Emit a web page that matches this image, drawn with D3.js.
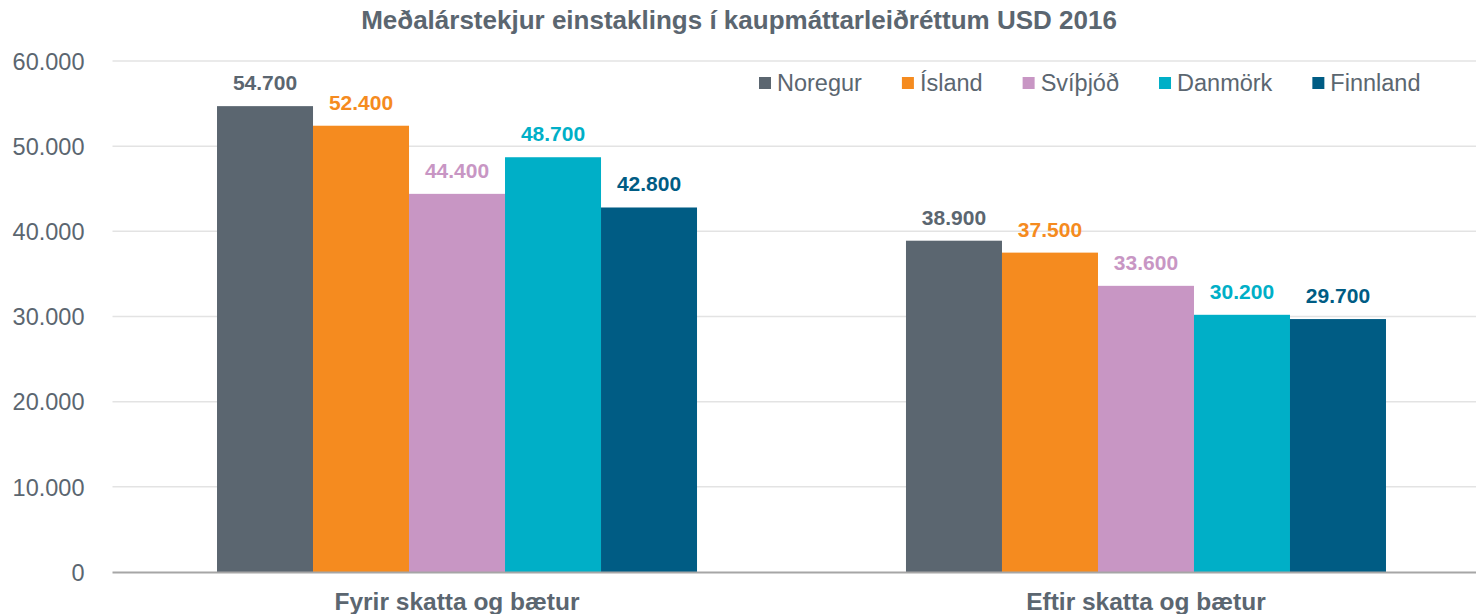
<!DOCTYPE html>
<html>
<head>
<meta charset="utf-8">
<script src="https://cdn.jsdelivr.net/npm/d3@7"></script>
<style>
  body { margin: 0; background: #fff; }
  text { font-family: 'Liberation Sans', Arial, sans-serif; }
</style>
</head>
<body>
<div id="chart"></div>
<script>
const categories = ['Fyrir skatta og bætur', 'Eftir skatta og bætur']
const countries = ['Noregur', 'Ísland', 'Svíþjóð', 'Danmörk', 'Finnland']
const colors = ['#5b6670', '#f58b1f', '#c896c4', '#00afc7', '#005c84']
const noregur = [54700, 38900]
const island = [52400, 37500]
const svithjod = [44400, 33600]
const danmork = [48700, 30200]
const finnland = [42800, 29700]
const yTicks = [0, 10000, 20000, 30000, 40000, 50000, 60000]
const title = 'Meðalárstekjur einstaklings í kaupmáttarleiðréttum USD 2016'

const series = [noregur, island, svithjod, danmork, finnland]

const width = 1476
const height = 614
const textColor = '#5b6670'
const margin = { top: 61, left: 112.5, bottom: 42 }
const plotRight = 1490.5

const fmt = v => d3.format(',')(v).replace(/,/g, '.')

const svg = d3.select('#chart')
    .append('svg')
    .attr('width', width)
    .attr('height', height)

const x0 = d3.scaleBand()
    .domain(categories)
    .range([margin.left, plotRight])
    .paddingInner(0.3033)
    .paddingOuter(0.1517)

const x1 = d3.scaleBand()
    .domain(countries)
    .range([0, x0.bandwidth()])

const y = d3.scaleLinear()
    .domain([0, 60000])
    .range([height - margin.bottom, margin.top])

// gridlines
svg.append('g')
    .selectAll('line')
    .data(yTicks.filter(d => d > 0))
    .join('line')
    .attr('x1', margin.left)
    .attr('x2', plotRight)
    .attr('y1', d => y(d))
    .attr('y2', d => y(d))
    .attr('stroke', '#e3e3e3')
    .attr('stroke-width', 1.5)

// y axis labels
const yAxis = svg.append('g')
    .attr('transform', `translate(${margin.left},0)`)
    .call(d3.axisLeft(y).tickValues(yTicks).tickFormat(fmt).tickSize(0).tickPadding(28))
yAxis.select('.domain').remove()
yAxis.selectAll('text')
    .style('font-size', '23.5px')
    .style('fill', textColor)
    .attr('dy', '0.35em')

// bars
const groups = svg.append('g')
    .selectAll('g')
    .data(categories)
    .join('g')
    .attr('transform', d => `translate(${x0(d)},0)`)

groups.selectAll('rect')
    .data((c, ci) => countries.map((k, i) => ({ k, i, v: series[i][ci] })))
    .join('rect')
    .attr('x', d => x1(d.k))
    .attr('y', d => y(d.v))
    .attr('width', x1.bandwidth())
    .attr('height', d => y(0) - y(d.v))
    .attr('fill', d => colors[d.i])

groups.selectAll('text')
    .data((c, ci) => countries.map((k, i) => ({ k, i, v: series[i][ci] })))
    .join('text')
    .attr('x', d => x1(d.k) + x1.bandwidth() / 2)
    .attr('y', d => y(d.v) - 16)
    .attr('text-anchor', 'middle')
    .style('font-size', '21px')
    .style('font-weight', 'bold')
    .style('fill', d => colors[d.i])
    .text(d => fmt(d.v))

// x axis
svg.append('line')
    .attr('x1', margin.left)
    .attr('x2', plotRight)
    .attr('y1', y(0) + 0.5)
    .attr('y2', y(0) + 0.5)
    .attr('stroke', '#a6a6a6')
    .attr('stroke-width', 2)

svg.append('g')
    .selectAll('text')
    .data(categories)
    .join('text')
    .attr('x', d => x0(d) + x0.bandwidth() / 2)
    .attr('y', 610)
    .attr('text-anchor', 'middle')
    .style('font-size', '24.5px')
    .style('font-weight', 'bold')
    .style('fill', textColor)
    .text(d => d)

// title
svg.append('text')
    .attr('x', 739)
    .attr('y', 29)
    .attr('text-anchor', 'middle')
    .style('font-size', '26px')
    .style('font-weight', 'bold')
    .style('fill', textColor)
    .text(title)

// legend
const legend = svg.append('g')
let lx = 759
countries.forEach((name, i) => {
    legend.append('rect')
        .attr('x', lx)
        .attr('y', 77)
        .attr('width', 12)
        .attr('height', 12)
        .attr('fill', colors[i])
    const t = legend.append('text')
        .attr('x', lx + 18)
        .attr('y', 91)
        .style('font-size', '23.5px')
        .style('fill', textColor)
        .text(name)
    lx += 18 + t.node().getComputedTextLength() + 40
})
</script>
</body>
</html>
